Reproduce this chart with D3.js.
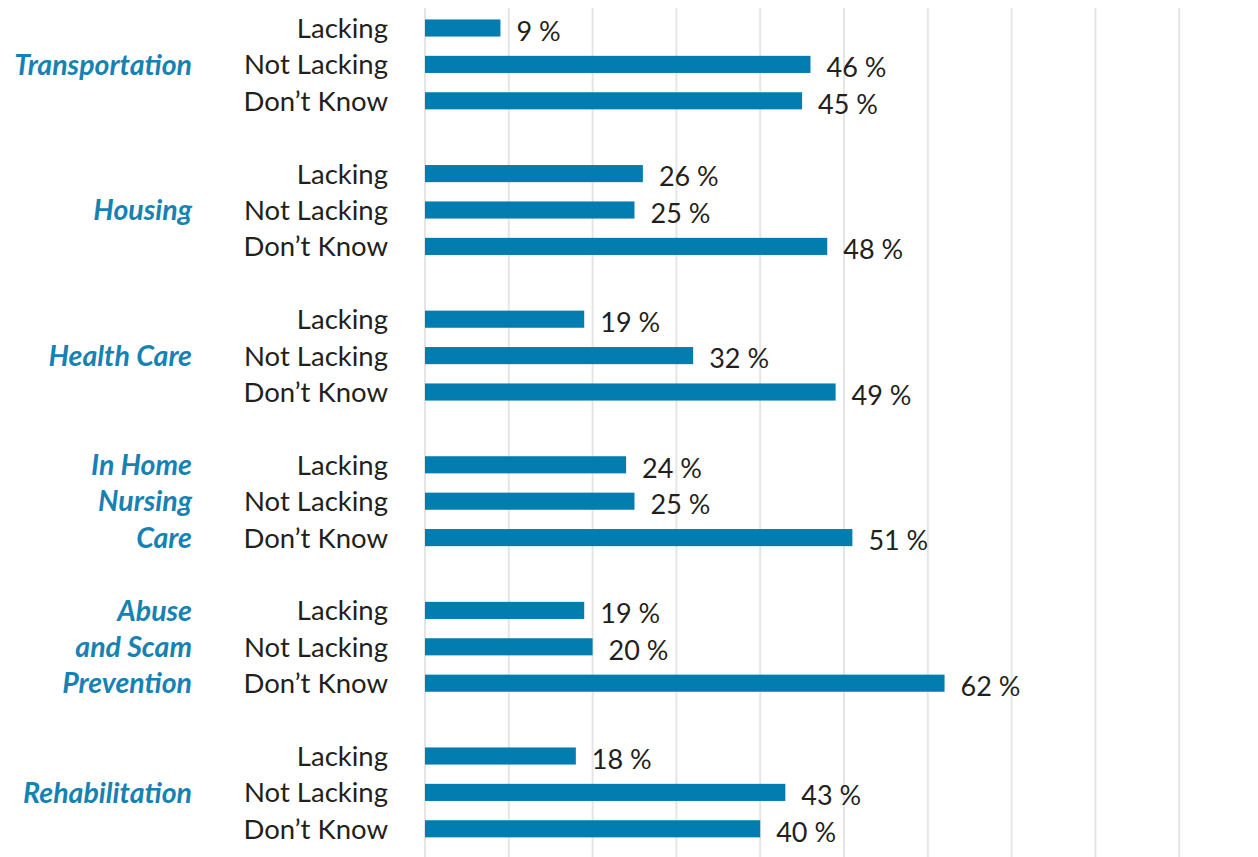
<!DOCTYPE html>
<html>
<head>
  <meta charset="utf-8">
  <title>Lacking services</title>
  <script src="https://cdn.jsdelivr.net/npm/d3@7"></script>
  <style>
    body { margin: 0; background: #fff; }
    text { font-family: Lato, "Noto Sans", sans-serif; }
  </style>
</head>
<body>
<script>
// data
var categories = ["Transportation", "Housing", "Health Care", "In Home Nursing Care", "Abuse and Scam Prevention", "Rehabilitation"];
var categoryLines = [["Transportation"], ["Housing"], ["Health Care"], ["In Home", "Nursing", "Care"], ["Abuse", "and Scam", "Prevention"], ["Rehabilitation"]];
var responses = ["Lacking", "Not Lacking", "Don\u2019t Know"];
var lacking    = [9, 26, 19, 24, 19, 18];
var notLacking = [46, 25, 32, 25, 20, 43];
var dontKnow   = [45, 48, 49, 51, 62, 40];
var gridTicks = [0, 10, 20, 30, 40, 50, 60, 70, 80, 90];

var w = 1258, h = 857;
var blue = "#037cb0";

var svg = d3.select("body").append("svg")
  .attr("width", w)
  .attr("height", h);

// one slot per response, plus a blank slot between groups
var rows = [];
var slots = [];
categories.forEach(function(c, ci) {
  var vals = [lacking[ci], notLacking[ci], dontKnow[ci]];
  responses.forEach(function(r, ri) {
    var key = ci + "-" + ri;
    slots.push(key);
    rows.push({cat: ci, resp: r, ri: ri, value: vals[ri], key: key});
  });
  if (ci < categories.length - 1) slots.push("gap" + ci);
});

var x = d3.scaleLinear().domain([0, 100]).range([425, 425 + 838]);
var step = 36.4;
var y = d3.scaleBand()
  .domain(slots)
  .range([28 - step / 2, 28 - step / 2 + step * slots.length])
  .paddingInner(0.53)
  .paddingOuter(0.265);

// gridlines
svg.selectAll("line.grid")
  .data(gridTicks)
  .enter()
  .append("line")
  .attr("class", "grid")
  .attr("x1", function(d) { return x(d); })
  .attr("x2", function(d) { return x(d); })
  .attr("y1", 8)
  .attr("y2", h)
  .attr("stroke", "#e5e5e5")
  .attr("stroke-width", 2);

// bars
svg.selectAll("rect.bar")
  .data(rows)
  .enter()
  .append("rect")
  .attr("class", "bar")
  .attr("x", x(0))
  .attr("y", function(d) { return y(d.key); })
  .attr("width", function(d) { return x(d.value) - x(0); })
  .attr("height", y.bandwidth())
  .attr("fill", blue);

// value labels
svg.selectAll("text.val")
  .data(rows)
  .enter()
  .append("text")
  .attr("class", "val")
  .attr("x", function(d) { return x(d.value) + 16; })
  .attr("y", function(d) { return y(d.key) + y.bandwidth() / 2 + 3; })
  .attr("dy", "0.36em")
  .attr("font-size", "27px")
  .attr("fill", "#231f20")
  .text(function(d) { return d.value + " %"; });

// response labels
svg.selectAll("text.resp")
  .data(rows)
  .enter()
  .append("text")
  .attr("class", "resp")
  .attr("x", 388)
  .attr("y", function(d) { return y(d.key) + y.bandwidth() / 2; })
  .attr("dy", "0.36em")
  .attr("text-anchor", "end")
  .attr("font-size", "27.5px")
  .attr("fill", "#231f20")
  .text(function(d) { return d.resp; });

// category labels
categoryLines.forEach(function(lines, ci) {
  var startRow = lines.length === 1 ? 1 : 0;
  lines.forEach(function(line, li) {
    var key = ci + "-" + (startRow + li);
    svg.append("text")
      .attr("x", 192)
      .attr("y", y(key) + y.bandwidth() / 2)
      .attr("dy", "0.36em")
      .attr("text-anchor", "end")
      .attr("font-size", "28.5px")
      .attr("font-weight", "bold")
      .attr("font-style", "italic")
      .attr("fill", "#1682b4")
      .text(line);
  });
});
</script>
</body>
</html>
